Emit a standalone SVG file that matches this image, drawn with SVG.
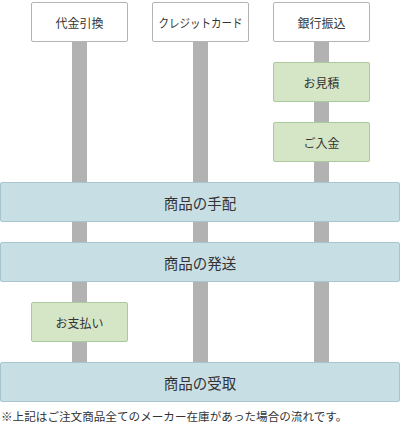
<svg xmlns="http://www.w3.org/2000/svg" width="400" height="429" viewBox="0 0 400 429">
<style>
text{font-family:"Noto Sans CJK JP","Noto Sans CJK SC",sans-serif;fill:#333;text-anchor:middle;dominant-baseline:central}
.head rect{fill:#fff;stroke:#b4b4b4;stroke-width:1}
.step rect{fill:#d5e6c6;stroke:#abc99d;stroke-width:1}
.bar rect{fill:#c8dee5;stroke:#a8c4ce;stroke-width:1}
.lane{fill:#b2b2b2}
.s12{font-size:12px}
.s14{font-size:14.5px}
.note{font-size:11.6px;text-anchor:start;dominant-baseline:auto}
</style>
<g id="connectors">
<rect class="lane" x="72" y="41" width="15" height="321"/>
<rect class="lane" x="193" y="41" width="15" height="321"/>
<rect class="lane" x="314" y="41" width="15" height="321"/>
</g>
<g id="head-cod" class="head"><rect x="31.5" y="2.5" width="96" height="39" rx="1.5"/><text class="s12" x="79.5" y="22.7">代金引換</text></g>
<g id="head-card" class="head"><rect x="152.5" y="2.5" width="96" height="39" rx="1.5"/><text class="s12" x="200.5" y="22.7" textLength="84" lengthAdjust="spacingAndGlyphs">クレジットカード</text></g>
<g id="head-bank" class="head"><rect x="273.5" y="2.5" width="96" height="39" rx="1.5"/><text class="s12" x="321.5" y="22.7">銀行振込</text></g>
<g id="step-estimate" class="step"><rect x="273.5" y="62.5" width="96" height="39" rx="1.5"/><text class="s12" x="321.5" y="82.7">お見積</text></g>
<g id="step-deposit" class="step"><rect x="273.5" y="122.5" width="96" height="39" rx="1.5"/><text class="s12" x="321.5" y="142.7">ご入金</text></g>
<g id="bar-arrange" class="bar"><rect x="0.5" y="182.5" width="399" height="39" rx="1.5"/><text class="s14" x="200" y="202">商品の手配</text></g>
<g id="bar-ship" class="bar"><rect x="0.5" y="242.5" width="399" height="39" rx="1.5"/><text class="s14" x="200" y="262">商品の発送</text></g>
<g id="step-pay" class="step"><rect x="31.5" y="302.5" width="96" height="39" rx="1.5"/><text class="s12" x="79.5" y="322.7">お支払い</text></g>
<g id="bar-receive" class="bar"><rect x="0.5" y="362.5" width="399" height="39" rx="1.5"/><text class="s14" x="200" y="382">商品の受取</text></g>
<text class="note" x="1" y="421">※上記はご注文商品全てのメーカー在庫があった場合の流れです。</text>
</svg>
